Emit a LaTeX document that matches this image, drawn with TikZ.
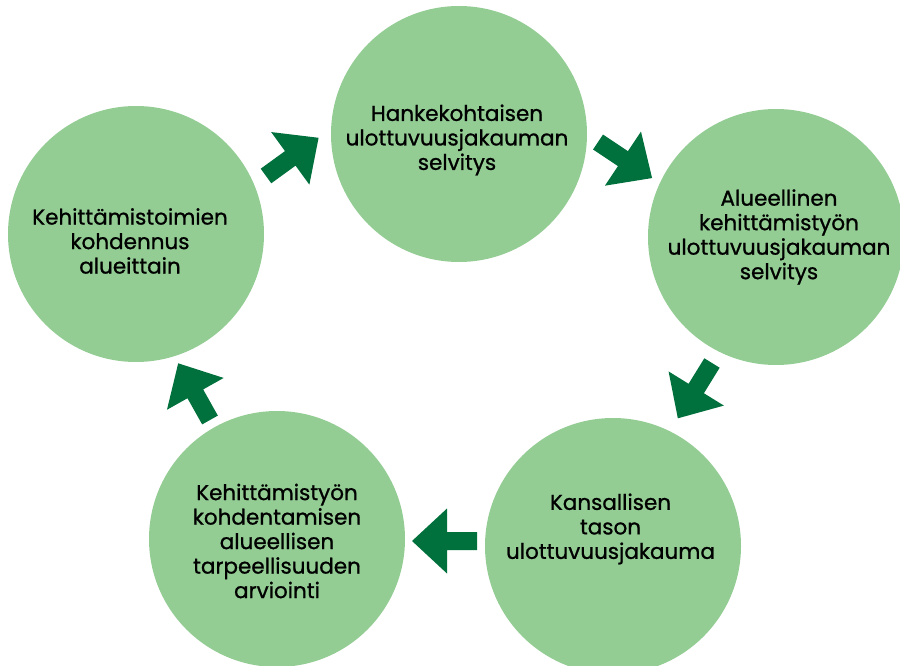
\documentclass[tikz,border=0pt]{standalone}
\usepackage{fontspec}
\setmainfont{Poppins}[FakeBold=0.9]
\definecolor{disc}{HTML}{93CD94}
\definecolor{arrowgreen}{HTML}{00703C}
\tikzset{
  stage/.style={circle, fill=disc, minimum size=256pt, inner sep=0pt},
  lbl/.style={align=center, font=\fontsize{21.5}{24.5}\selectfont, text=black, inner sep=0pt},
  blockarrow/.pic={
    \fill[arrowgreen] (0,-9) -- (30,-9) -- (30,-32.5) -- (65,0)
      -- (30,32.5) -- (30,9) -- (0,9) -- cycle;
  }
}
\begin{document}
\begin{tikzpicture}[x=1pt,y=-1pt]
\useasboundingbox (0,0) rectangle (900,666);
\clip (0,0) rectangle (900,666);

% the five stages of the cycle
\node[stage] (c1) at (459,134) {};
\node[stage] (c2) at (776,237) {};
\node[stage] (c3) at (613,546) {};
\node[stage] (c4) at (277,539) {};
\node[stage] (c5) at (136,234) {};

\node[lbl] (t1) at ([xshift=-2pt,yshift=-6pt]c1.center) {Hankekohtaisen\\ulottuvuusjakauman\\selvitys};
\node[lbl] (t2) at ([xshift=3pt]c2.center) {Alueellinen\\kehittämistyön\\ulottuvuusjakauman\\selvitys};
\node[lbl] (t3) at ([xshift=-2.5pt,yshift=17pt]c3.center) {Kansallisen\\tason\\ulottuvuusjakauma};
\node[lbl] (t4) at ([yshift=-2pt]c4.center) {Kehittämistyön\\kohdentamisen\\alueellisen\\tarpeellisuuden\\arviointi};
\node[lbl] (t5) at ([xshift=-6pt,yshift=-7pt]c5.center) {Kehittämistoimien\\kohdennus\\alueittain};

% block arrows between the stages
\pic[rotate=36] (a1) at (266,176) {blockarrow};
\pic[rotate=-33.7] (a2) at (598,142) {blockarrow};
\pic[rotate=-121.7] (a3) at (712,363) {blockarrow};
\pic[rotate=180] (a4) at (477,541) {blockarrow};
\pic[rotate=119.3] (a5) at (210,420) {blockarrow};
\end{tikzpicture}
\end{document}
